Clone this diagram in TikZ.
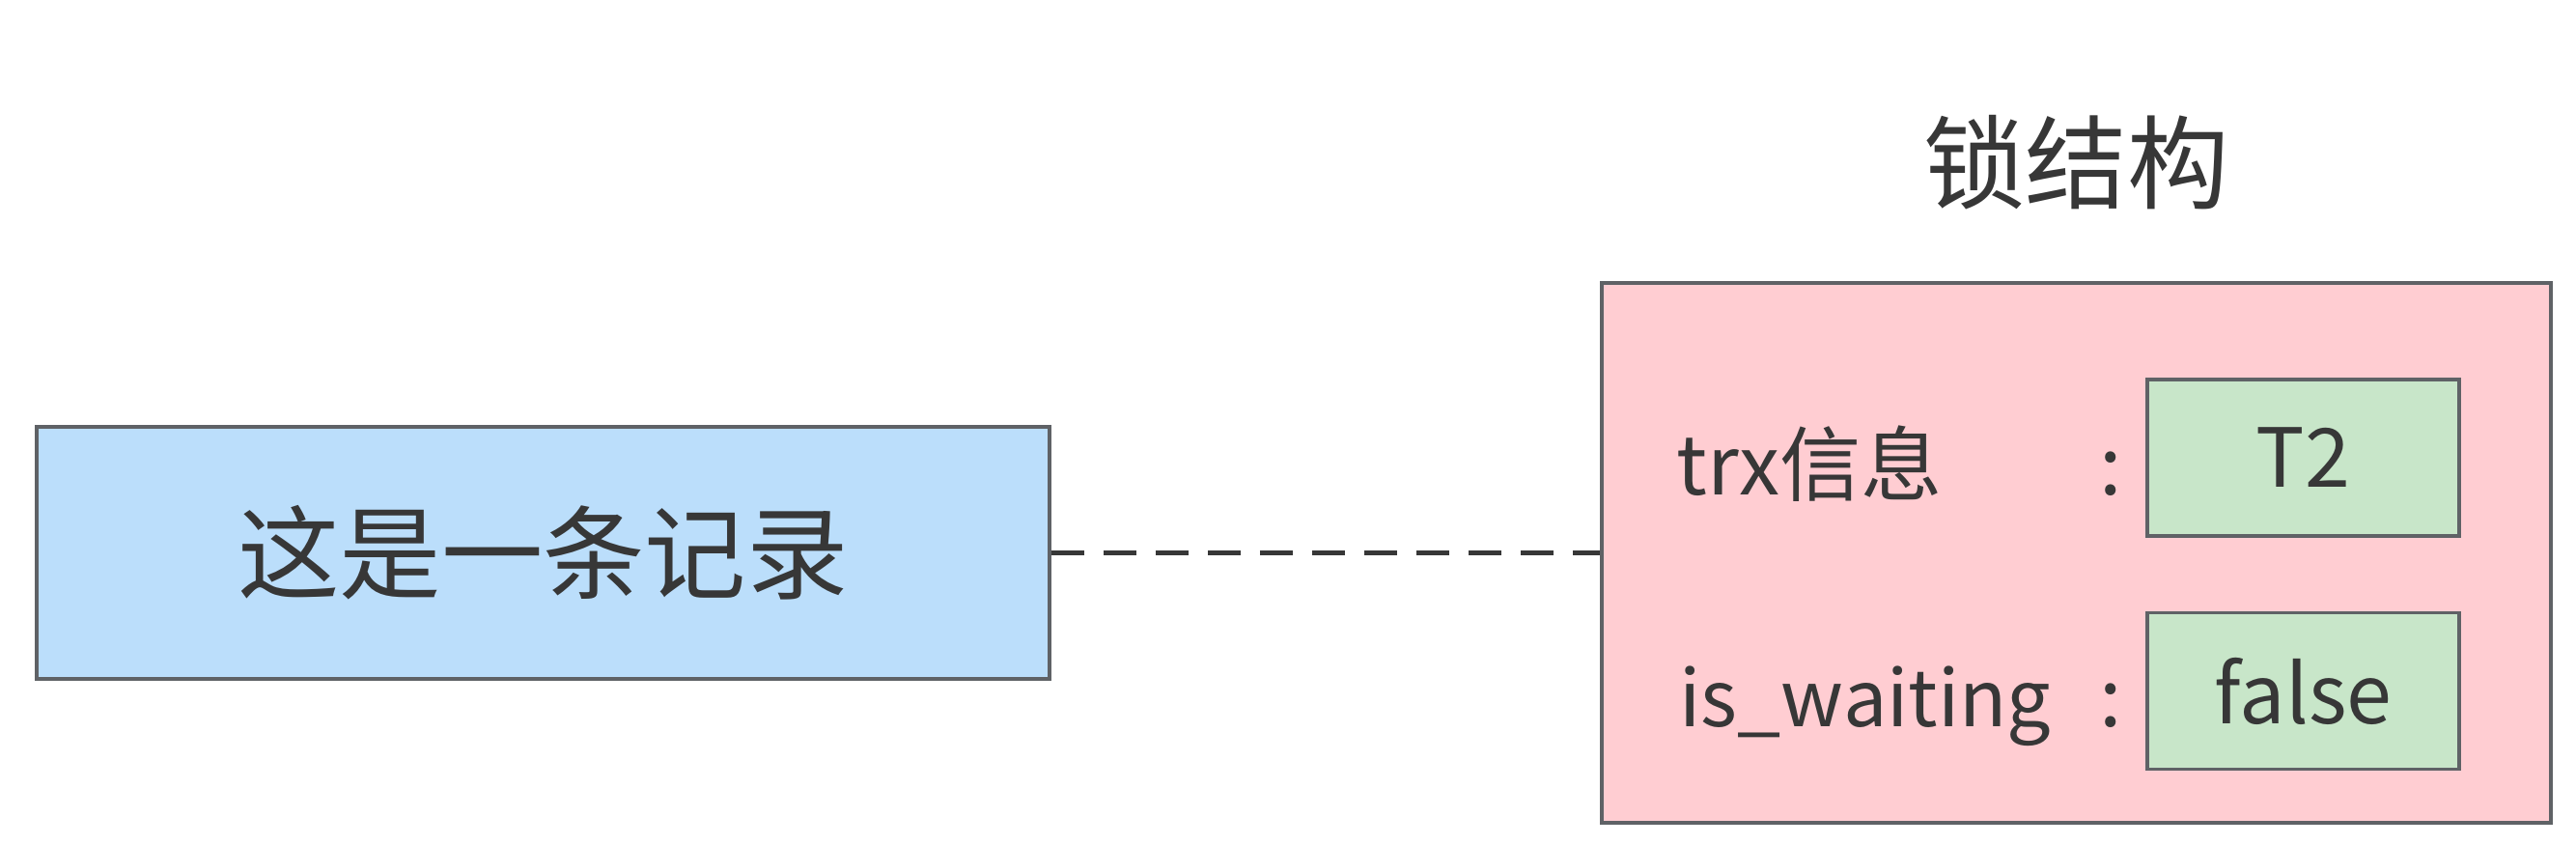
\documentclass[tikz,border=0pt]{standalone}
\usepackage{fontspec}
\setmainfont{Noto Sans CJK SC}
\usepackage{tikz}
\usetikzlibrary{positioning}
\definecolor{recordblue}{RGB}{187,222,251}
\definecolor{lockpink}{RGB}{255,205,210}
\definecolor{valuegreen}{RGB}{200,230,201}
\definecolor{bordergray}{RGB}{95,98,102}
\definecolor{textgray}{RGB}{55,55,55}
\tikzstyle{record} = [draw=bordergray, fill=recordblue, line width=1pt, minimum width=10.49cm, minimum height=2.61cm, text=textgray, font=\fontsize{30}{36}\selectfont]
\tikzstyle{lock} = [draw=bordergray, fill=lockpink, line width=1pt, minimum width=9.83cm, minimum height=5.59cm]
\tikzstyle{heading} = [text=textgray, font=\fontsize{30}{36}\selectfont]
\tikzstyle{valuedata} = [draw=bordergray, fill=valuegreen, line width=1pt, minimum width=3.23cm, minimum height=1.62cm, text=textgray, font=\fontsize{24}{29}\selectfont]
\tikzstyle{fielddata} = [anchor=base west, inner sep=0pt, text=textgray, font=\fontsize{24}{29}\selectfont]
\tikzstyle{colon} = [anchor=base, inner sep=0pt, text=textgray, font=\fontsize{24}{29}\selectfont]
\tikzstyle{dashline} = [draw, line width=1.7pt, color=textgray, dash pattern=on 0.34cm off 0.2cm]
\newcommand{\valuedata}[2]{node (v#1) [valuedata] {#2}}
\newcommand{\fielddata}[2]{node (f#1) [fielddata] {#2}}
\newcommand{\colondata}[1]{node (c#1) [colon] {:}}
\begin{document}
\begin{tikzpicture}
\useasboundingbox (0,0) rectangle (26.68,8.74);
\path (5.625,3.015) node (r1) [record] {这是一条记录};
\path (r1)+(15.88,0.0) node (l1) [lock] {};
\path (l1)+(0.0,4.045) node (h1) [heading] {锁结构};
\path [dashline] (r1.east) -- (l1.west) node[] {};

\path (l1)+(2.35,0.985) \valuedata{1}{T2};
\path (l1)+(2.35,-1.43) \valuedata{2}{false};

\path (v1)+(-6.495,-0.38) \fielddata{1}{trx信息};
\path (v2)+(-6.465,-0.37) \fielddata{2}{\fontsize{23}{28}\selectfont is\_waiting};
\path (v1)+(-1.995,-0.38) \colondata{1};
\path (v2)+(-1.995,-0.37) \colondata{2};
\end{tikzpicture}
\end{document}
